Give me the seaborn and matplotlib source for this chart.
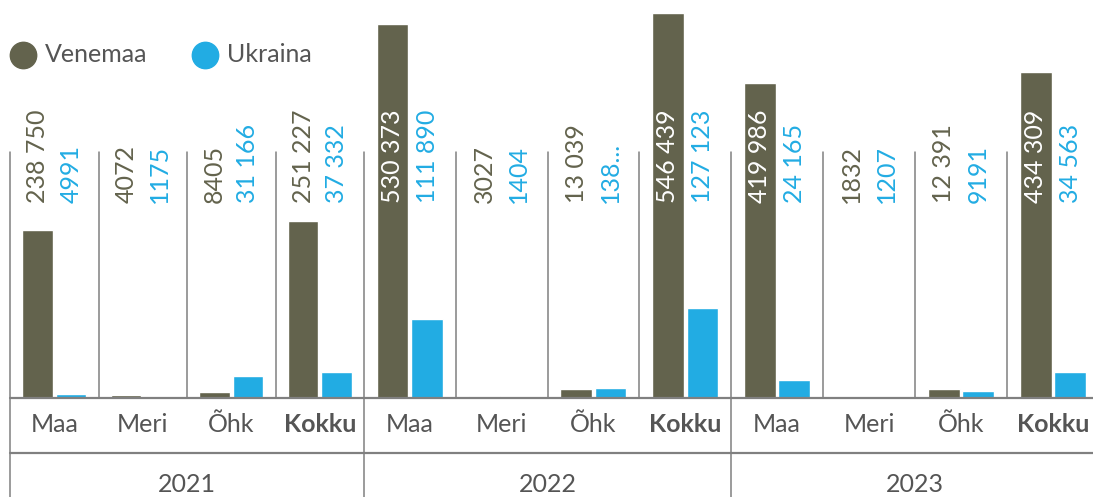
import matplotlib
matplotlib.use("Agg")
import matplotlib.pyplot as plt
from matplotlib.lines import Line2D
from matplotlib.transforms import blended_transform_factory
import seaborn as sns
import pandas as pd

# ---- data ----
years = ["2021", "2022", "2023"]
categories = ["Maa", "Meri", "Õhk", "Kokku"]
series_names = ["Venemaa", "Ukraina"]
venemaa = [238750, 4072, 8405, 251227, 530373, 3027, 13039, 546439, 419986, 1832, 12391, 434309]
ukraina = [4991, 1175, 31166, 37332, 111890, 1404, 13800, 127123, 24165, 1207, 9191, 34563]
venemaa_labels = ["238 750", "4072", "8405", "251 227", "530 373", "3027", "13 039", "546 439",
                  "419 986", "1832", "12 391", "434 309"]
ukraina_labels = ["4991", "1175", "31 166", "37 332", "111 890", "1404", "138...", "127 123",
                  "24 165", "1207", "9191", "34 563"]

# ---- style ----
sns.set_theme(style="white")
plt.rcParams["font.family"] = ["Lato", "DejaVu Sans"]
C_RU = "#63634d"
C_UA = "#22ace3"
C_TXT = "#555555"
C_LINE = "#808080"

W, H = 1093, 497
fig = plt.figure(figsize=(W / 100, H / 100), dpi=100)

def fx(px):
    return px / W

def fy(py):
    return 1 - py / H

base_y = 398
# pixels per unit differ slightly per year panel in the reference
px_per_unit = [385.0 / 546439, 385.0 / 546439, 0.00075]
label_frac = (base_y - 203) / base_y
sep_frac = (base_y - 152) / base_y

edges = [10, 364, 731, 1099]
rows = []
for yi, yr in enumerate(years):
    for ci, cat in enumerate(categories):
        k = yi * 4 + ci
        rows.append({"aasta": yr, "kategooria": cat, "riik": series_names[0], "väärtus": venemaa[k]})
        rows.append({"aasta": yr, "kategooria": cat, "riik": series_names[1], "väärtus": ukraina[k]})
df = pd.DataFrame(rows)

bw = 0.75
for yi, yr in enumerate(years):
    left, right = edges[yi], edges[yi + 1]
    ax = fig.add_axes([fx(left), fy(base_y), fx(right - left), base_y / H])
    sub = df[df["aasta"] == yr]
    sns.barplot(data=sub, x="kategooria", y="väärtus", hue="riik", order=categories,
                hue_order=series_names, palette=[C_RU, C_UA], width=bw, gap=0.08,
                saturation=1, legend=False, ax=ax)
    ymax = base_y / px_per_unit[yi]
    ax.set_xlim(-0.5, 3.5)
    ax.set_ylim(0, ymax)
    ax.axis("off")
    # separators between categories
    for k in range(1, 4):
        ax.axvline(k - 0.5, ymin=0, ymax=sep_frac, color=C_LINE, lw=1.1)
    tr = blended_transform_factory(ax.transData, ax.transAxes)
    trf = blended_transform_factory(ax.transData, fig.transFigure)
    for ci, cat in enumerate(categories):
        k = yi * 4 + ci
        for si, (vals, labs, col) in enumerate([(venemaa, venemaa_labels, C_RU),
                                                (ukraina, ukraina_labels, C_UA)]):
            xc = ci + (-bw / 4 if si == 0 else bw / 4)
            inside = vals[k] / ymax > label_frac + 0.25
            ax.text(xc, label_frac, labs[k], rotation=90, ha="center", va="bottom",
                    transform=tr, fontsize=18, color="white" if inside else col)
        ax.text(ci, fy(425), cat, ha="center", va="center", transform=trf, fontsize=18,
                color=C_TXT, fontweight="bold" if cat == "Kokku" else "normal")
    ax.text(0.5, fy(485), yr, ha="center", va="center",
            transform=blended_transform_factory(ax.transAxes, fig.transFigure),
            fontsize=18, color=C_TXT)

# full-height separators (left edge and year boundaries)
for px in edges[:3]:
    fig.add_artist(Line2D([fx(px), fx(px)], [fy(152), 0], transform=fig.transFigure,
                          color=C_LINE, lw=1.1))
# horizontal rules
for py in (base_y, 453):
    fig.add_artist(Line2D([fx(10), 1], [fy(py), fy(py)], transform=fig.transFigure,
                          color=C_LINE, lw=1.6))

# legend
for (cx, tx, name, col) in [(23, 45, series_names[0], C_RU), (205, 227, series_names[1], C_UA)]:
    fig.add_artist(Line2D([fx(cx)], [fy(55)], transform=fig.transFigure, marker="o",
                          markersize=19, color=col, ls=""))
    fig.text(fx(tx), fy(55), name, ha="left", va="center", fontsize=18, color=C_TXT)

fig.savefig("out.png", dpi=100)
